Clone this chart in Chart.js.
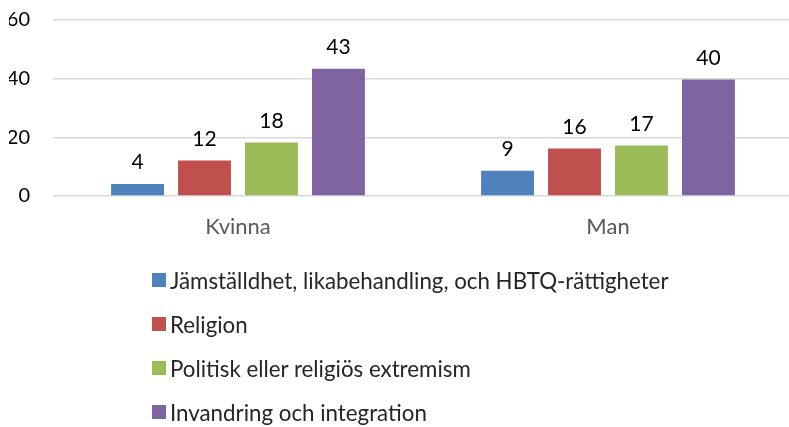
<!DOCTYPE html>
<html>
<head>
<meta charset="utf-8">
<script src="https://cdn.jsdelivr.net/npm/chart.js@4"></script>
<style>
  html, body { margin: 0; padding: 0; background: #fff; overflow: hidden; }
  #wrap { position: relative; width: 789px; height: 427px; overflow: hidden; }
  #chartBox { position: absolute; left: 0; top: -15px; width: 793px; height: 278px; }
  #legend { position: absolute; left: 152px; top: 258px; font-family: Lato, "Open Sans", sans-serif; font-size: 22.3px; color: #262626; }
  .item { display: flex; align-items: center; height: 44px; }
  .box { width: 14px; height: 14px; margin-right: 4px; }
</style>
</head>
<body>
<div id="wrap">
  <div id="chartBox"><canvas id="chart"></canvas></div>
  <div id="legend"></div>
</div>
<script>
const categories = ['Kvinna', 'Man'];
const seriesNames = [
  'Jämställdhet, likabehandling, och HBTQ-rättigheter',
  'Religion',
  'Politisk eller religiös extremism',
  'Invandring och integration'
];
const jamstalldhet = [4.1, 8.6];
const religion = [12.1, 16.2];
const extremism = [18.2, 17.2];
const invandring = [43.4, 39.7];
const yTicks = [0, 20, 40, 60];

const colors = ['#4F81BD', '#C0504D', '#9BBB59', '#8064A2'];
const seriesValues = [jamstalldhet, religion, extremism, invandring];

// values above the bars + category names under the axis
const textLabels = {
  id: 'textLabels',
  afterDatasetsDraw(chart) {
    const ctx = chart.ctx;
    ctx.save();
    ctx.font = '21px Lato, "Open Sans", sans-serif';
    ctx.fillStyle = '#000';
    ctx.textAlign = 'center';
    ctx.textBaseline = 'bottom';
    chart.data.datasets.forEach((ds, i) => {
      chart.getDatasetMeta(i).data.forEach((bar, j) => {
        ctx.fillText(Math.round(ds.data[j]), bar.x, bar.y - 11);
      });
    });
    const xs = chart.scales.x;
    ctx.font = '22px Lato, "Open Sans", sans-serif';
    ctx.fillStyle = '#595959';
    ctx.textBaseline = 'middle';
    chart.data.labels.forEach((lab, i) => {
      ctx.fillText(lab, xs.getPixelForValue(i), chart.chartArea.bottom + 31);
    });
    ctx.restore();
  }
};

const chart = new Chart(document.getElementById('chart'), {
  type: 'bar',
  data: {
    labels: categories,
    datasets: seriesNames.map((name, i) => ({
      label: name,
      data: seriesValues[i],
      backgroundColor: colors[i],
      categoryPercentage: 0.724,
      barPercentage: 0.79
    }))
  },
  options: {
    responsive: true,
    maintainAspectRatio: false,
    animation: false,
    layout: { autoPadding: false, padding: { left: 9, right: 0, top: 33, bottom: 8 } },
    plugins: {
      legend: { display: false },
      tooltip: { enabled: false }
    },
    scales: {
      x: {
        grid: { display: false },
        border: { display: false },
        ticks: { display: false },
        afterFit(scale) { scale.height = 59; }
      },
      y: {
        min: 0,
        max: 60,
        afterBuildTicks(scale) { scale.ticks = yTicks.map(v => ({ value: v })); },
        afterFit(scale) { scale.width = 44; },
        grid: { color: '#D9D9D9', lineWidth: 1.5, drawTicks: false, tickLength: 0 },
        border: { display: false },
        ticks: {
          color: '#000',
          padding: 23,
          font: { family: 'Lato, "Open Sans", sans-serif', size: 20 }
        }
      }
    }
  },
  plugins: [textLabels]
});

// html legend, one entry per row
const legend = document.getElementById('legend');
chart.data.datasets.forEach(ds => {
  const row = document.createElement('div');
  row.className = 'item';
  const box = document.createElement('span');
  box.className = 'box';
  box.style.background = ds.backgroundColor;
  const txt = document.createElement('span');
  txt.textContent = ds.label;
  row.appendChild(box);
  row.appendChild(txt);
  legend.appendChild(row);
});
</script>
</body>
</html>
